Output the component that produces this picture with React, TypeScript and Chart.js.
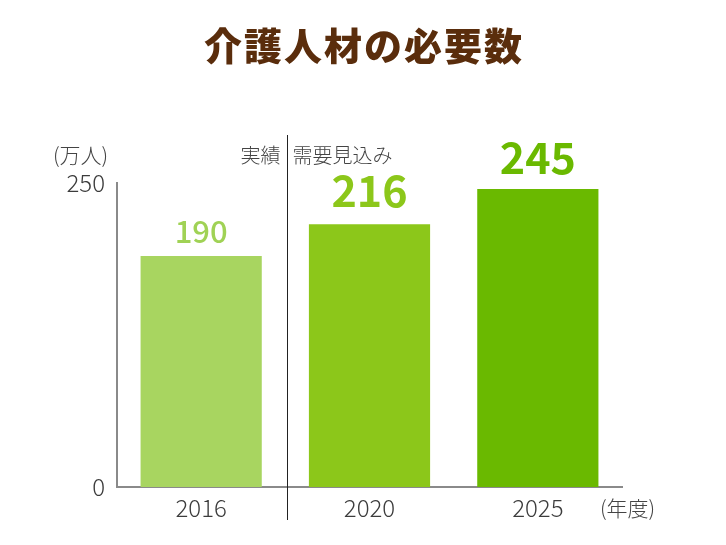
import React, { useEffect, useRef } from "react";
import { Chart, registerables } from "chart.js";

Chart.register(...registerables);

const categories = ["2016", "2020", "2025"];
const values = [190, 216, 245];
const barColors = ["#a8d560", "#8cc71a", "#6ab900"];
const labelColors = ["#a0d255", "#8cc71a", "#6ab900"];
const labelFontSizes = [31, 43, 43];
const labelFontWeights = ["500", "600", "600"];
const labelOffsets = [25, 34, 31];
const yTicks = [0, 250];
const titleText = "介護人材の必要数";
const yUnit = "(万人)";
const xUnit = "(年度)";
const actualLabel = "実績";
const forecastLabel = "需要見込み";

const FONT = "'Noto Sans CJK JP', 'Noto Sans', sans-serif";

const annotations = {
  id: "annotations",
  afterDatasetsDraw(chart: any) {
    const ctx = chart.ctx;
    const meta = chart.getDatasetMeta(0);
    ctx.save();
    // title
    ctx.fillStyle = "#5a2d0c";
    ctx.font = `900 38px ${FONT}`;
    ctx.textAlign = "center";
    ctx.textBaseline = "middle";
    (ctx as any).letterSpacing = "2px";
    ctx.fillText(titleText, 364, 46);
    (ctx as any).letterSpacing = "0px";

    // value labels
    meta.data.forEach((bar: any, i: number) => {
      ctx.fillStyle = labelColors[i];
      ctx.font = `${labelFontWeights[i]} ${labelFontSizes[i]}px ${FONT}`;
      ctx.textAlign = "center";
      ctx.textBaseline = "middle";
      ctx.fillText(String(values[i]), bar.x, bar.y - labelOffsets[i]);
    });

    // divider
    const x0 = meta.data[0].x;
    const x1 = meta.data[1].x;
    const dx = Math.round((x0 + x1) / 2 + 2) + 0.5;
    ctx.strokeStyle = "#222";
    ctx.lineWidth = 1;
    ctx.beginPath();
    ctx.moveTo(dx, 135);
    ctx.lineTo(dx, 520);
    ctx.stroke();

    ctx.fillStyle = "#444";
    ctx.font = `300 20px ${FONT}`;
    ctx.textBaseline = "middle";
    ctx.textAlign = "right";
    ctx.fillText(actualLabel, dx - 7, 155);
    ctx.textAlign = "left";
    ctx.fillText(forecastLabel, dx + 5, 155);

    ctx.font = `300 21px ${FONT}`;
    ctx.textAlign = "left";
    ctx.fillText(yUnit, 53, 155);
    ctx.fillText(xUnit, 600, 508);
    ctx.restore();
  },
};

export default function App() {
  const ref = useRef<HTMLCanvasElement>(null);
  useEffect(() => {
    document.body.style.margin = "0";
    const chart = new Chart(ref.current!, {
      type: "bar",
      data: {
        labels: categories,
        datasets: [
          {
            data: values,
            backgroundColor: barColors,
            borderWidth: 0,
            barPercentage: 0.72,
            categoryPercentage: 1,
          },
        ],
      },
      options: {
        animation: false,
        responsive: false,
        maintainAspectRatio: false,
        layout: { padding: { top: 183, right: 104, left: 0, bottom: 0 } },
        plugins: { legend: { display: false }, tooltip: { enabled: false } },
        scales: {
          x: {
            grid: { display: false, drawTicks: false },
            border: { display: true, color: "#8a8a8a", width: 2 },
            ticks: { color: "#3c3c3c", font: { size: 24, family: FONT, weight: "300" as any }, padding: 6 },
            afterFit: (s: any) => {
              s.height = 545 - 487;
            },
          },
          y: {
            min: 0,
            max: 250,
            afterBuildTicks: (s: any) => {
              s.ticks = yTicks.map((v) => ({ value: v }));
            },
            grid: { display: false, drawTicks: false },
            border: { display: true, color: "#8a8a8a", width: 2 },
            ticks: { color: "#3c3c3c", font: { size: 24, family: FONT, weight: "300" as any }, padding: 12 },
            afterFit: (s: any) => {
              s.width = 117;
            },
          },
        },
      },
      plugins: [annotations],
    });
    return () => chart.destroy();
  }, []);
  return <canvas ref={ref} width={726} height={545} style={{ display: "block" }} />;
}
